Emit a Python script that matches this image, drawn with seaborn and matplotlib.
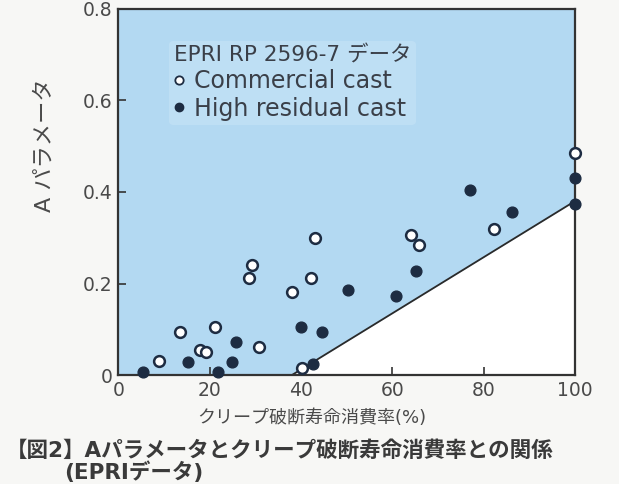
import matplotlib
matplotlib.use("Agg")
import matplotlib.pyplot as plt
from matplotlib.lines import Line2D
import seaborn as sns
import pandas as pd

# values
commercial_x = [9.0, 13.6, 17.8, 19.3, 21.1, 28.6, 29.2, 30.8, 38.0, 40.3, 42.2, 43.1, 64.0, 65.8, 82.3, 100.0]
commercial_y = [0.030, 0.095, 0.055, 0.051, 0.106, 0.212, 0.241, 0.061, 0.181, 0.015, 0.212, 0.299, 0.306, 0.284, 0.319, 0.484]

residual_x = [5.4, 15.2, 21.8, 24.8, 25.7, 39.9, 42.7, 44.5, 50.4, 60.9, 65.1, 77.1, 86.3, 100.0, 100.0]
residual_y = [0.007, 0.029, 0.007, 0.028, 0.072, 0.104, 0.024, 0.095, 0.186, 0.172, 0.228, 0.405, 0.357, 0.430, 0.374]

# lower bound line (end points)
bound_x = [0, 38, 100]
bound_y = [0, 0, 0.38]

x_ticks = [0, 20, 40, 60, 80, 100]
y_ticks = [0, 0.2, 0.4, 0.6, 0.8]
y_ticklabels = ["0", "0.2", "0.4", "0.6", "0.8"]

sns.set_style("ticks")
plt.rcParams["font.family"] = ["DejaVu Sans", "Noto Sans CJK JP"]

ink = "#1d2c42"
grey = "#4a4a4a"
blue = "#b3d9f2"

fig = plt.figure(figsize=(6.19, 4.84), dpi=100, facecolor="#f7f7f5")
ax = fig.add_axes([0.191, 0.225, 0.738, 0.757])
ax.set_facecolor("white")

# blue region above the bound line
ax.fill_between(bound_x, bound_y, 0.8, color=blue, lw=0, zorder=0)
ax.plot(bound_x[1:], bound_y[1:], color="#2a2a2a", lw=1.3, zorder=1)

df_c = pd.DataFrame({"x": commercial_x, "y": commercial_y})
df_r = pd.DataFrame({"x": residual_x, "y": residual_y})
sns.scatterplot(data=df_c, x="x", y="y", ax=ax, s=60, marker="o",
                facecolor="white", edgecolor=ink, linewidth=1.8, clip_on=False, zorder=3)
sns.scatterplot(data=df_r, x="x", y="y", ax=ax, s=60, marker="o",
                color=ink, edgecolor=ink, linewidth=1, clip_on=False, zorder=3)

ax.set_xlim(0, 100)
ax.set_ylim(0, 0.8)
ax.set_xticks(x_ticks)
ax.set_yticks(y_ticks)
ax.set_yticklabels(y_ticklabels)
ax.tick_params(direction="in", length=6, width=1.2, color="#333333",
               labelsize=13.5, labelcolor=grey, pad=4)
for sp in ax.spines.values():
    sp.set_color("#333333")
    sp.set_linewidth(1.6)
ax.set_xlabel("")
ax.set_ylabel("")

handles = [
    Line2D([], [], marker="o", ls="", markersize=6, markerfacecolor="white",
           markeredgecolor=ink, markeredgewidth=1.3, label="Commercial cast"),
    Line2D([], [], marker="o", ls="", markersize=6, markerfacecolor=ink,
           markeredgecolor=ink, label="High residual cast"),
]
leg = ax.legend(handles=handles, title="EPRI RP 2596-7 データ", loc="upper left",
                bbox_to_anchor=(0.085, 0.945), frameon=True, fontsize=17,
                title_fontsize=15.5, handlelength=0.5, handletextpad=0.35,
                labelspacing=0.15, borderpad=0.2, alignment="left")
leg.get_frame().set_facecolor("#c2e1f5")
leg.get_frame().set_edgecolor("none")
for t in leg.get_texts():
    t.set_color("#3a3f48")
leg.get_title().set_color("#3a3f48")

fig.text(45 / 619, 1 - 145 / 484, "A パラメータ", rotation=90, ha="center", va="center",
         fontsize=16, color=grey)
fig.text(312 / 619, 1 - 418 / 484, "クリープ破断寿命消費率(%)", ha="center", va="center",
         fontsize=13, color=grey)
fig.text(6 / 619, 1 - 451 / 484, "【図2】Aパラメータとクリープ破断寿命消費率との関係",
         ha="left", va="center", fontsize=15.5, color="#3a3a3a", fontweight="bold")
fig.text(64 / 619, 1 - 472 / 484, "(EPRIデータ)", ha="left", va="center",
         fontsize=15.5, color="#3a3a3a", fontweight="bold")

fig.savefig("out.png", dpi=100, facecolor=fig.get_facecolor())
